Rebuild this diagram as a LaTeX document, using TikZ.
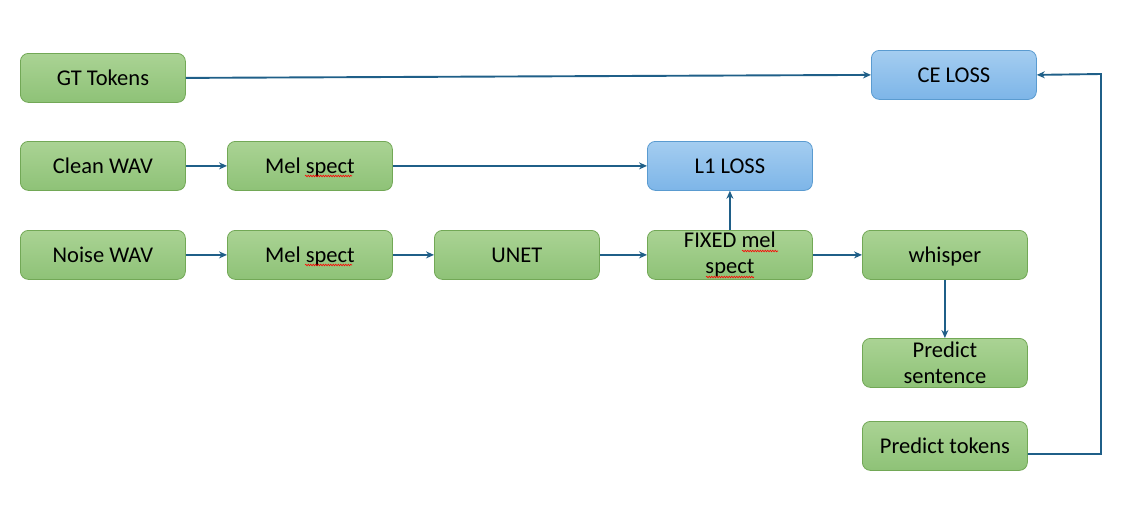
\documentclass[tikz,border=0pt]{standalone}
\usepackage{fontspec}
\setmainfont{Carlito}
\usetikzlibrary{arrows.meta,decorations.pathmorphing}
\definecolor{gtop}{HTML}{AAD394}
\definecolor{gbot}{HTML}{8EC277}
\definecolor{gbord}{HTML}{72A856}
\definecolor{btop}{HTML}{A4CDF0}
\definecolor{bbot}{HTML}{7DB5E8}
\definecolor{bbord}{HTML}{5A9BD0}
\definecolor{arr}{HTML}{1F5F88}
\tikzset{
  box/.style={rounded corners=8pt, minimum width=165pt, minimum height=49pt, line width=0.8pt, align=center, font=\fontsize{22.5}{26}\selectfont, inner sep=0pt, anchor=north west},
  one/.style={text height=14.5pt, text depth=0pt},
  gbox/.style={box, draw=gbord, top color=gtop, bottom color=gbot},
  bbox/.style={box, draw=bbord, top color=btop, bottom color=bbot},
  conn/.style={draw=arr, line width=1.9pt, -{Stealth[length=8pt,width=7pt]}},
  squig/.style={draw=red, line width=0.6pt, decorate, decoration={snake, amplitude=0.8pt, segment length=2.5pt}}
}
\begin{document}
\begin{tikzpicture}[x=1pt,y=-1pt]
\useasboundingbox (0,0) rectangle (1136,528);
\node[gbox,one] (gt) at (20,53) {GT Tokens};
\node[bbox,one] (ce) at (871,50) {CE LOSS};
\node[gbox,one] (clean) at (20,141) {Clean WAV};
\node[gbox,one] (mel1) at (227,141) {Mel spect};
\node[bbox,one] (l1) at (647,141) {L1 LOSS};
\node[gbox,one] (noise) at (20,230) {Noise WAV};
\node[gbox,one] (mel2) at (227,230) {Mel spect};
\node[gbox,one] (unet) at (434,230) {UNET};
\node[gbox] (fixed) at (647,230) {FIXED mel\\spect};
\node[gbox,one] (whisper) at (862,230) {whisper};
\node[gbox] (psent) at (862,338) {Predict\\sentence};
\node[gbox,one] (ptok) at (862,421) {Predict tokens};
\coordinate (corner1) at (1101,454);
\coordinate (corner2) at (1101,74);
\draw[conn] (gt.east) -- (ce.west);
\draw[conn] (clean) -- (mel1);
\draw[conn] (noise) -- (mel2);
\draw[conn] (mel1) -- (l1);
\draw[conn] (mel2) -- (unet);
\draw[conn] (unet) -- (fixed);
\draw[conn] (fixed) -- (l1);
\draw[conn] (fixed) -- (whisper);
\draw[conn] (whisper) -- (psent);
\draw[conn] (ptok.east |- corner1) -- (corner1) -- (corner2) -- (ce.east);
\draw[squig] (305,176) -- (352,176);
\draw[squig] (305,265) -- (352,265);
\draw[squig] (742,251) -- (778,251);
\draw[squig] (706,277) -- (754,277);
\end{tikzpicture}
\end{document}
